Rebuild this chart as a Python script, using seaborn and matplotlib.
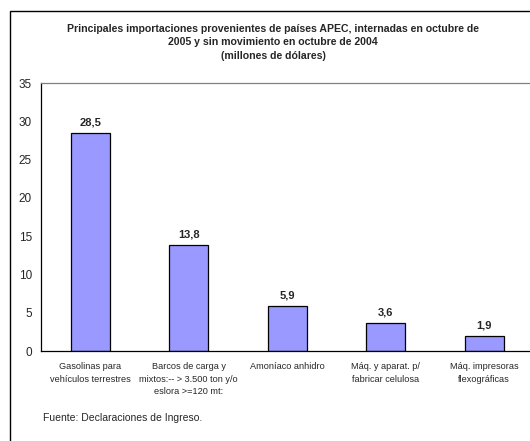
import matplotlib
matplotlib.use("Agg")
import matplotlib.pyplot as plt
import seaborn as sns
import pandas as pd
from matplotlib.patches import Rectangle

categories = [
    "Gasolinas para\nvehículos terrestres",
    "Barcos de carga y\nmixtos:-- > 3.500 ton y/o\neslora >=120 mt:",
    "Amoníaco anhidro",
    "Máq. y aparat. p/\nfabricar celulosa",
    "Máq. impresoras\nflexográficas",
]
values = [28.5, 13.8, 5.9, 3.6, 1.9]
value_labels = ["28,5", "13,8", "5,9", "3,6", "1,9"]
yticks = [0, 5, 10, 15, 20, 25, 30, 35]
title = ("Principales importaciones provenientes de países APEC, internadas en octubre de\n"
         "2005 y sin movimiento en octubre de 2004\n(millones de dólares)")
source = "Fuente: Declaraciones de Ingreso."

sns.set_style("white")
plt.rcParams['font.family'] = ['Liberation Sans', 'DejaVu Sans']

df = pd.DataFrame({"cat": categories, "val": values})

fig = plt.figure(figsize=(5.30, 4.41), dpi=100)
W, H = 530, 441
ax = fig.add_axes([41 / W, (H - 351) / H, (533.5 - 41) / W, (351 - 83) / H])

sns.barplot(data=df, x="cat", y="val", color="#9999FF", edgecolor="black",
            linewidth=0.9, width=0.4, saturation=1, ax=ax)

ax.set_xlim(-0.5, 4.5)
ax.set_ylim(0, 35)
ax.set_yticks(yticks)
ax.set_yticklabels([str(t) for t in yticks], fontsize=8.5)
ax.set_xlabel("")
ax.set_ylabel("")
ax.tick_params(axis="x", which="major", length=0, pad=8, labelsize=6.6)
ax.set_xticks([i - 0.5 for i in range(1, 5)], minor=True)
ax.tick_params(axis="x", which="minor", length=3.5, width=0.8, color="black", direction="out")
ax.tick_params(axis="y", length=3.5, width=0.8, color="black", direction="out", pad=3)
for lbl in ax.get_xticklabels():
    lbl.set_linespacing(1.5)
    lbl.set_verticalalignment("top")

for s in ["left", "bottom"]:
    ax.spines[s].set_color("black")
    ax.spines[s].set_linewidth(0.9)
for s in ["top", "right"]:
    ax.spines[s].set_color("#808080")
    ax.spines[s].set_linewidth(0.9)
ax.spines["top"].set_visible(True)
ax.spines["right"].set_visible(True)

for i, (v, lab) in enumerate(zip(values, value_labels)):
    ax.annotate(lab, (i, v), xytext=(0, 4), textcoords="offset points",
                ha="center", va="bottom", fontsize=8, fontweight="bold")

fig.text(273 / W, 1 - 23.5 / H, title, ha="center", va="top", fontsize=7.6,
         fontweight="bold", linespacing=1.45)
fig.text(43 / W, 1 - 418 / H, source, ha="left", va="center", fontsize=7.5)

fig.patches.append(Rectangle((10 / W, -0.05), 1.0, (H - 11) / H + 0.05,
                             transform=fig.transFigure, fill=False,
                             edgecolor="black", linewidth=1.0, clip_on=False))

fig.savefig("out.png", dpi=100)
